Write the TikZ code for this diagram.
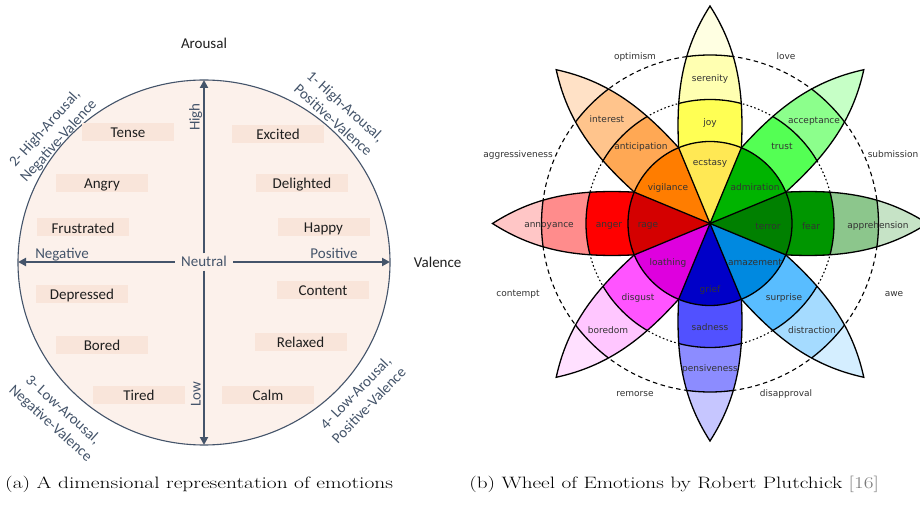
\documentclass[tikz,border=0pt]{standalone}
\usepackage{fontspec}
\usepackage{graphicx}
\newfontfamily\calib{Carlito}
\newfontfamily\dvs{DejaVu Sans}
\usetikzlibrary{arrows.meta}

% circumplex panel
\definecolor{slate}{HTML}{44546A}
\definecolor{discfill}{HTML}{FCF1EB}
\definecolor{boxfill}{HTML}{F9E5DA}
\definecolor{cite}{HTML}{7A7A7A}
% wheel colours: tip / outer band / middle band / inner wedge
\definecolor{joyT}{HTML}{FFFFE2}\definecolor{joyB}{HTML}{FFFFB1}\definecolor{joyM}{HTML}{FFFF54}\definecolor{joyW}{HTML}{FFE854}
\definecolor{antT}{HTML}{FFE1C6}\definecolor{antB}{HTML}{FFC48C}\definecolor{antM}{HTML}{FFA854}\definecolor{antW}{HTML}{FF7D00}
\definecolor{angT}{HTML}{FFC6C6}\definecolor{angB}{HTML}{FF8C8C}\definecolor{angM}{HTML}{FF0000}\definecolor{angW}{HTML}{D40000}
\definecolor{disT}{HTML}{FFE0FF}\definecolor{disB}{HTML}{FFC6FF}\definecolor{disM}{HTML}{FF54FF}\definecolor{disW}{HTML}{DE00DE}
\definecolor{sadT}{HTML}{C6C6FF}\definecolor{sadB}{HTML}{8C8CFF}\definecolor{sadM}{HTML}{5151FF}\definecolor{sadW}{HTML}{0000C8}
\definecolor{surT}{HTML}{D4EEFF}\definecolor{surB}{HTML}{A5DBFF}\definecolor{surM}{HTML}{59BDFF}\definecolor{surW}{HTML}{0089E0}
\definecolor{feaT}{HTML}{C6E3C6}\definecolor{feaB}{HTML}{8CC68C}\definecolor{feaM}{HTML}{009600}\definecolor{feaW}{HTML}{008000}
\definecolor{truT}{HTML}{C6FFC6}\definecolor{truB}{HTML}{8CFF8C}\definecolor{truM}{HTML}{54FF54}\definecolor{truW}{HTML}{00B400}

% one petal, axis along +x, from the inner ring out to the tip
\def\petalshape{(22.5:82) .. controls (130,34) and (173,28.5) .. (217.5,0) .. controls (173,-28.5) and (130,-34) .. (-22.5:82)}

\tikzset{
  emo/.style={fill=boxfill, minimum width=92bp, minimum height=18bp, inner sep=0pt,
    font=\calib\fontsize{15bp}{18bp}\selectfont, text=black!88, text height=11.5bp, text depth=0pt},
  axislabel/.style={font=\calib\fontsize{15bp}{18bp}\selectfont, text=slate, inner sep=0pt,
    text height=10bp, text depth=0pt},
  titlelabel/.style={axislabel, text=black!88},
  quad/.style={font=\calib\fontsize{15bp}{18.5bp}\selectfont, text=slate, align=center, inner sep=0pt},
  axisline/.style={draw=slate, line width=2.6bp, -{Triangle[length=8bp,width=8bp]}},
  rim/.style={draw=slate, line width=1.1bp},
  edge/.style={draw=black, line width=1.3bp},
  ringout/.style={draw=black, line width=1.1bp, dash pattern=on 4.5bp off 3.5bp},
  ringmid/.style={draw=black, line width=1.1bp, dash pattern=on 1.6bp off 2.4bp},
  wlabel/.style={font=\dvs\fontsize{9bp}{11bp}\selectfont, text=black!80, inner sep=0pt,
    text height=6.6bp, text depth=0pt},
  caption/.style={font=\fontsize{16.5bp}{19bp}\selectfont, text=black, inner sep=0pt}
}

\begin{document}
\begin{tikzpicture}[x=1bp,y=-1bp]
\useasboundingbox (0,0) rectangle (920,505);
\fill[white] (0,0) rectangle (920,505);

% ---------- arousal / valence circle ----------
\fill[discfill] (204,262.5) ellipse [x radius=186, y radius=182.5];
\draw[rim] (204,262.5) ellipse [x radius=186, y radius=182.5];

\node[emo] (tense)      at (128,132)   {Tense};
\node[emo] (excited)    at (278,134)   {Excited};
\node[emo] (angry)      at (102,183)   {Angry};
\node[emo] (delighted)  at (302,183)   {Delighted};
\node[emo] (frustrated) at (83,227.5)  {Frustrated};
\node[emo] (happy)      at (323.5,227) {Happy};
\node[emo] (depressed)  at (82,294)    {Depressed};
\node[emo] (content)    at (323,290)   {Content};
\node[emo] (bored)      at (102,345)   {Bored};
\node[emo] (relaxed)    at (300.5,342) {Relaxed};
\node[emo] (tired)      at (139,395)   {Tired};
\node[emo] (calm)       at (268,395)   {Calm};

\node[axislabel, fill=discfill, minimum width=58bp, minimum height=17bp] (neutral) at (204,262) {Neutral};
\coordinate (atop) at (204,80);
\coordinate (abot) at (204,445);
\coordinate (alft) at (18,262);
\coordinate (argt) at (390,262);
\draw[axisline] (neutral) -- (atop);
\draw[axisline] (neutral) -- (abot);
\draw[axisline] (neutral) -- (alft);
\draw[axisline] (neutral) -- (argt);

\node[axislabel] (neg)  at (62,254)  {Negative};
\node[axislabel] (pos)  at (334,254) {Positive};
\node[axislabel, rotate=90] (high) at (194.5,117) {High};
\node[axislabel, rotate=90] (low)  at (195.5,394) {Low};
\node[titlelabel] (arousal) at (204,43.2)  {Arousal};
\node[titlelabel] (valence) at (437.7,263) {Valence};

\node[quad, rotate=-42] (q1) at (339.5,113) {1- High-Arousal,\\Positive-Valence};
\node[quad, rotate=48]  (q2) at (52,135)    {2- High-Arousal,\\Negative-Valence};
\node[quad, rotate=-42] (q3) at (56.5,417)  {3- Low-Arousal,\\Negative-Valence};
\node[quad, rotate=46]  (q4) at (362,399)   {4- Low-Arousal,\\Positive-Valence};

% ---------- wheel of emotions ----------
\begin{scope}[shift={(710,223.5)}, y=1bp]
  \draw[ringout] (0,0) circle (168.5);
  \draw[ringmid] (0,0) circle (124);
  \foreach \a/\ct/\cb/\cm in {90/joyT/joyB/joyM, 135/antT/antB/antM, 180/angT/angB/angM,
      225/disT/disB/disM, 270/sadT/sadB/sadM, 315/surT/surB/surM, 0/feaT/feaB/feaM, 45/truT/truB/truM}{
    \begin{scope}[rotate=\a]
      \fill[\ct] \petalshape -- (0,0) -- cycle;
      \begin{scope}
        \clip \petalshape -- (0,0) -- cycle;
        \fill[\cb] (0,0) circle (168.5);
        \fill[\cm] (0,0) circle (124);
        \draw[edge] (0,0) circle (168.5);
        \draw[edge] (0,0) circle (124);
      \end{scope}
      \draw[edge] \petalshape;
    \end{scope}
  }
  \foreach \a/\cw in {90/joyW, 135/antW, 180/angW, 225/disW, 270/sadW, 315/surW, 0/feaW, 45/truW}{
    \fill[\cw] (0,0) -- (\a-22.5:82) arc [start angle=\a-22.5, end angle=\a+22.5, radius=82] -- cycle;
  }
  \foreach \a in {22.5,67.5,...,337.5}{
    \draw[edge] (0,0) -- (\a:82);
  }
  \draw[edge] (0,0) circle (82);
\end{scope}

% wheel labels
\node[wlabel] (serenity)     at (710,78)    {serenity};
\node[wlabel] (joy)          at (710,122)   {joy};
\node[wlabel] (ecstasy)      at (710,162)   {ecstasy};
\node[wlabel] (interest)     at (607,119.5) {interest};
\node[wlabel] (anticipation) at (641,146)   {anticipation};
\node[wlabel] (vigilance)    at (668,187)   {vigilance};
\node[wlabel] (acceptance)   at (814,120)   {acceptance};
\node[wlabel] (trust)        at (782,146)   {trust};
\node[wlabel] (admiration)   at (755,187)   {admiration};
\node[wlabel] (annoyance)    at (549,224)   {annoyance};
\node[wlabel] (anger)        at (609,224)   {anger};
\node[wlabel] (rage)         at (648,224)   {rage};
\node[wlabel] (terror)       at (768,226)   {terror};
\node[wlabel] (fear)         at (811,226)   {fear};
\node[wlabel] (apprehension) at (878,225)   {apprehension};
\node[wlabel] (loathing)     at (668,262)   {loathing};
\node[wlabel] (disgust)      at (638,297)   {disgust};
\node[wlabel] (boredom)      at (608,330)   {boredom};
\node[wlabel] (grief)        at (710,289)   {grief};
\node[wlabel] (sadness)      at (710,327)   {sadness};
\node[wlabel] (pensiveness)  at (710,368)   {pensiveness};
\node[wlabel] (amazement)    at (755,262)   {amazement};
\node[wlabel] (surprise)     at (784,297)   {surprise};
\node[wlabel] (distraction)  at (812,330)   {distraction};

\node[wlabel] (optimism)       at (635,56)  {optimism};
\node[wlabel] (love)           at (786,56)  {love};
\node[wlabel] (aggressiveness) at (518,154) {aggressiveness};
\node[wlabel] (submission)     at (893,154) {submission};
\node[wlabel] (contempt)       at (518,293) {contempt};
\node[wlabel] (awe)            at (894,293) {awe};
\node[wlabel] (remorse)        at (635,393) {remorse};
\node[wlabel] (disapproval)    at (786,393) {disapproval};

% ---------- captions ----------
\node[caption, anchor=base west] (capa) at (5,488)
  {\scalebox{1.3}[1]{(a) A dimensional representation of emotions}};
\node[caption, anchor=base east] (capb) at (879,488)
  {\scalebox{1.285}[1]{(b) Wheel of Emotions by Robert Plutchick {\color{cite}[16]}}};
\end{tikzpicture}
\end{document}
